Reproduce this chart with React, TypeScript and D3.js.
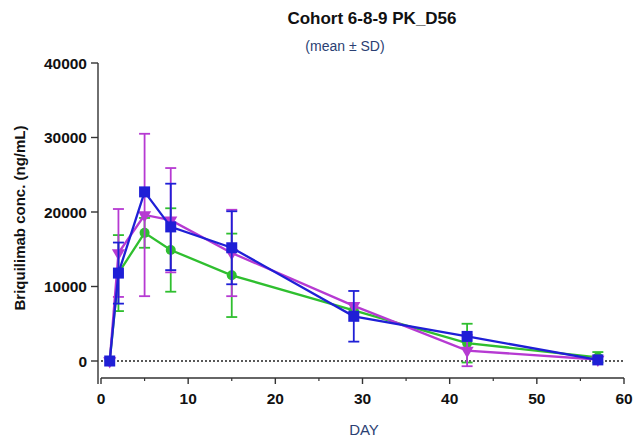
import React from 'react';
import * as d3 from 'd3';

const days = [1, 2, 5, 8, 15, 29, 42, 57];

const greenMean = [0, 11800, 17200, 14900, 11500, 6800, 2400, 500];
const greenSd = [0, 5100, 2000, 5600, 5600, 0, 2600, 700];

const pinkMean = [0, 14500, 19600, 18900, 14500, 7400, 1400, 200];
const pinkSd = [0, 5900, 10900, 7000, 5800, 0, 2100, 0];

const blueMean = [0, 11800, 22700, 18000, 15200, 6000, 3300, 150];
const blueSd = [0, 4100, 0, 5800, 4900, 3400, 0, 0];

const xTicks = [0, 10, 20, 30, 40, 50, 60];
const xMinor = [5, 15, 25, 35, 45, 55];
const yTicks = [0, 10000, 20000, 30000, 40000];

const series = [
  { name: 'green', color: '#2fbf2f', mean: greenMean, sd: greenSd, shape: 'circle' },
  { name: 'pink', color: '#b63ad2', mean: pinkMean, sd: pinkSd, shape: 'triangle' },
  { name: 'blue', color: '#1f1fd6', mean: blueMean, sd: blueSd, shape: 'square' },
];

const W = 640;
const H = 439;

export default function App() {
  const x = d3.scaleLinear().domain([0, 60]).range([101, 624]);
  const y = d3.scaleLinear().domain([0, 40000]).range([361, 63]);
  const axisY = 378;
  const axisX = 98;

  const line = d3
    .line<number>()
    .x((_, i) => x(days[i]))
    .y((d) => y(d));

  const tri = d3.symbol().type(d3.symbolTriangle).size(75)();

  return (
    <svg
      width={W}
      height={H}
      style={{ position: 'absolute', left: 0, top: 0, background: '#fff' }}
      fontFamily="Arial, 'Liberation Sans', sans-serif"
    >
      <text x={372} y={24} textAnchor="middle" fontSize={17} fontWeight="bold" fill="#111">
        Cohort 6-8-9 PK_D56
      </text>
      <text x={345} y={51} textAnchor="middle" fontSize={14} fill="#2b3f73">
        (mean ± SD)
      </text>

      {/* y axis */}
      <line x1={axisX} x2={axisX} y1={y(40000)} y2={axisY + 6} stroke="#333" strokeWidth={1.4} />
      {yTicks.map((t) => (
        <g key={t}>
          <line x1={axisX - 7} x2={axisX} y1={y(t)} y2={y(t)} stroke="#333" strokeWidth={1.4} />
          <text x={axisX - 11} y={y(t) + 5.5} textAnchor="end" fontSize={15.5} fontWeight="bold" fill="#111">
            {t}
          </text>
        </g>
      ))}
      <text
        transform={`translate(25,${(y(0) + y(40000)) / 2 + 6}) rotate(-90)`}
        textAnchor="middle"
        fontSize={15}
        fontWeight="bold"
        fill="#111"
      >
        Briquilimab conc. (ng/mL)
      </text>

      {/* x axis */}
      <line x1={x(0)} x2={x(60)} y1={axisY} y2={axisY} stroke="#333" strokeWidth={1.4} />
      {xTicks.map((t) => (
        <g key={t}>
          <line x1={x(t)} x2={x(t)} y1={axisY} y2={axisY + 6} stroke="#333" strokeWidth={1.4} />
          <text x={x(t)} y={axisY + 26} textAnchor="middle" fontSize={15.5} fontWeight="bold" fill="#111">
            {t}
          </text>
        </g>
      ))}
      {xMinor.map((t) => (
        <line key={t} x1={x(t)} x2={x(t)} y1={axisY} y2={axisY + 3} stroke="#333" strokeWidth={1.2} />
      ))}
      <text x={364} y={435} textAnchor="middle" fontSize={15} fill="#2b3f73">
        DAY
      </text>

      {/* zero reference */}
      <line
        x1={x(0)}
        x2={x(60)}
        y1={y(0)}
        y2={y(0)}
        stroke="#222"
        strokeWidth={1.5}
        strokeDasharray="2,2"
      />

      {series.map((s) => (
        <g key={s.name}>
          {s.mean.map((m, i) =>
            s.sd[i] > 0 ? (
              <g key={i} stroke={s.color} strokeWidth={1.8}>
                <line x1={x(days[i])} x2={x(days[i])} y1={y(m - s.sd[i])} y2={y(m + s.sd[i])} />
                <line x1={x(days[i]) - 5.5} x2={x(days[i]) + 5.5} y1={y(m + s.sd[i])} y2={y(m + s.sd[i])} />
                <line x1={x(days[i]) - 5.5} x2={x(days[i]) + 5.5} y1={y(m - s.sd[i])} y2={y(m - s.sd[i])} />
              </g>
            ) : null
          )}
          <path d={line(s.mean) || ''} fill="none" stroke={s.color} strokeWidth={2.3} />
          {s.mean.map((m, i) => {
            const cx = x(days[i]);
            const cy = y(m);
            if (s.shape === 'circle') return <circle key={i} cx={cx} cy={cy} r={5} fill={s.color} />;
            if (s.shape === 'square')
              return <rect key={i} x={cx - 5.5} y={cy - 5.5} width={11} height={11} fill={s.color} />;
            return (
              <path key={i} d={tri || ''} transform={`translate(${cx},${cy}) rotate(180)`} fill={s.color} />
            );
          })}
        </g>
      ))}
    </svg>
  );
}
